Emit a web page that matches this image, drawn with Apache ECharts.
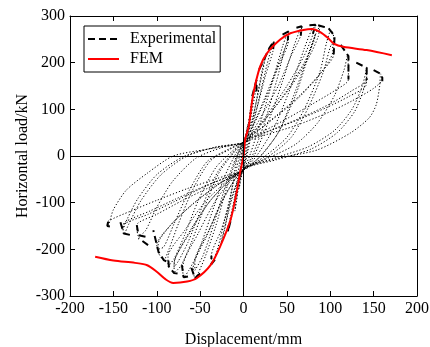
<!DOCTYPE html>
<html>
<head>
<meta charset="utf-8">
<script src="https://cdn.jsdelivr.net/npm/echarts@6/dist/echarts.min.js"></script>
<style>html,body{margin:0;padding:0;background:#fff}#c{width:430px;height:347px}</style>
</head>
<body>
<div id="c"></div>
<script>
// ---- tick settings ----
var xTicks = { min: -200, max: 200, interval: 50 };
var yTicks = { min: -300, max: 300, interval: 100 };

// ---- FEM curve [displacement mm, load kN] ----
var femData = [
  [-171,-216],[-150,-224],[-125,-229],[-111,-234],[-100,-248],[-90,-264],[-81,-272],
  [-65,-269],[-54,-262],[-38,-234],[-27,-194],[-15,-137],[-8,-79],[-4,-36],[0,0],
  [2,36],[6,63],[11,130],[19,191],[27,220],[42,249],[54,263],[69,270],[79,272],
  [88,266],[98,252],[104,241],[115,234],[142,227],[171,216]
];

// ---- Experimental hysteresis loops (one array per cycle) ----
var cycA = [[0,0],[2,30],[5,68],[4,60],[1,28],[-1,8],[-3,-35],[-5,-70],[-4,-60],[-1,-28],[0,-10]];
var cycB = [[0,-10],[4,40],[8,100],[10,122],[9,110],[4,52],[0,25],[-4,-30],[-8,-95],[-10,-118],[-9,-105],[-4,-50],[0,-22]];
var cycC = [[0,-22],[5,35],[11,125],[15,163],[14,140],[6,62],[0,28],[-5,-20],[-12,-115],[-18,-162],[-17,-148],[-7,-65],[0,-26]];
var cycD = [[0,-26],[6,30],[15,120],[22,188],[25,210],[23,190],[10,78],[0,30],[-7,0],[-15,-90],[-22,-160],[-26,-188],[-24,-170],[-10,-70],[0,-28]];
var cycE = [[0,-28],[5,10],[14,90],[25,180],[32,230],[35,246],[34,225],[25,170],[15,100],[5,50],[0,30],
            [-4,5],[-12,-60],[-22,-140],[-30,-200],[-35,-225],[-37,-232],[-37,-214],[-26,-160],[-15,-95],[-5,-45],[0,-30]];
var cycF = [[0,-30],[8,5],[20,75],[35,170],[45,235],[50,260],[52,267],[51,248],[42,205],[28,140],[14,78],[4,40],[0,30],
            [-6,5],[-18,-60],[-32,-150],[-44,-215],[-52,-250],[-56,-262],[-58,-240],[-42,-170],[-26,-100],[-10,-50],[0,-30]];
var cycF2 = [[0,-30],[10,0],[24,70],[38,160],[47,225],[52,255],[51,238],[40,190],[26,125],[12,68],[3,38],[0,30],
             [-8,0],[-20,-60],[-35,-150],[-47,-215],[-56,-245],[-56,-225],[-40,-160],[-24,-95],[-8,-45],[0,-30]];
var cycG = [[0,-30],[12,0],[28,70],[45,160],[58,235],[64,265],[67,278],[66,258],[55,215],[40,150],[22,90],[8,45],[0,30],
            [-8,8],[-22,-45],[-38,-130],[-52,-205],[-63,-245],[-69,-260],[-70,-238],[-52,-165],[-32,-95],[-12,-48],[0,-30]];
var cycH = [[0,-30],[15,0],[35,60],[55,150],[70,230],[78,268],[83,281],[80,260],[70,215],[50,150],[28,90],[10,48],[0,30],
            [-10,10],[-28,-35],[-45,-110],[-60,-185],[-72,-235],[-80,-251],[-80,-232],[-62,-165],[-40,-100],[-15,-50],[0,-30]];
var cycH2 = [[0,-30],[18,-3],[40,50],[60,140],[74,215],[83,262],[81,245],[70,200],[50,140],[28,85],[10,45],[0,30],
             [-12,8],[-30,-35],[-48,-110],[-64,-185],[-75,-225],[-80,-238],[-79,-220],[-60,-155],[-38,-95],[-14,-48],[0,-30]];
var cycI = [[0,-30],[20,0],[40,50],[60,130],[75,215],[84,265],[88,278],[86,255],[75,210],[55,150],[30,90],[10,48],[0,30],
            [-12,12],[-32,-25],[-52,-95],[-68,-170],[-80,-220],[-87,-237],[-87,-216],[-68,-160],[-45,-100],[-18,-52],[0,-30]];
var cycJ = [[0,-30],[25,0],[50,40],[70,100],[88,180],[96,245],[101,270],[104,255],[104,218],[90,180],[65,130],[40,90],[15,52],[0,30],
            [-15,15],[-38,-10],[-58,-70],[-75,-145],[-86,-200],[-92,-223],[-98,-208],[-100,-190],[-85,-150],[-60,-105],[-30,-62],[-8,-38],[0,-30]];
var cycJ2 = [[0,-30],[28,-2],[55,40],[75,105],[92,180],[102,240],[103,225],[88,175],[62,122],[38,85],[14,50],[0,30],
             [-18,14],[-42,-12],[-62,-72],[-80,-145],[-92,-195],[-99,-200],[-97,-180],[-80,-140],[-55,-98],[-28,-60],[-8,-38],[0,-30]];
var cycK = [[0,-28],[30,-3],[60,25],[85,70],[105,130],[116,185],[120,215],[121,164],[105,140],[80,112],[50,80],[25,55],[5,36],[0,28],
            [-25,18],[-55,-5],[-82,-55],[-100,-110],[-113,-160],[-121,-172],[-123,-148],[-100,-125],[-70,-95],[-40,-68],[-10,-42],[0,-30]];
var cycL = [[0,-28],[35,-5],[75,20],[105,55],[125,100],[137,150],[142,189],[142,163],[125,140],[100,112],[70,85],[35,58],[8,38],[0,28],
            [-30,20],[-65,0],[-95,-40],[-118,-95],[-132,-145],[-138,-168],[-139,-150],[-110,-125],[-80,-98],[-45,-66],[-15,-42],[0,-30]];
var cycL2 = [[0,-28],[38,-8],[78,15],[108,50],[128,95],[138,140],[142,170],[141,150],[122,128],[96,104],[66,80],[32,55],[8,37],[0,28],
             [-34,18],[-70,-2],[-100,-40],[-122,-92],[-134,-135],[-139,-158],[-137,-142],[-108,-118],[-78,-92],[-44,-64],[-14,-42],[0,-30]];
var cycM = [[0,-28],[40,-5],[85,13],[123,49],[145,82],[153,110],[157,150],[158,176],[160,165],[150,145],[125,118],[100,95],[60,65],[25,45],[5,33],[0,28],
            [-40,15],[-81,0],[-111,-37],[-135,-73],[-150,-115],[-155,-145],[-157,-150],[-156,-140],[-130,-118],[-100,-95],[-65,-70],[-30,-48],[-8,-35],[0,-30]];
var cycles = [cycA, cycB, cycC, cycD, cycE, cycF, cycF2, cycG, cycH, cycH2, cycI, cycJ, cycJ2, cycK, cycL, cycL2, cycM];

// ---- Experimental peak segments (bold dashes) ----
var tipsPos = [
  [[10,128],[15,163],[15,138]],
  [[18,185],[25,212],[30,232],[35,246],[34,225]],
  [[45,260],[52,267],[51,248]],
  [[61,275],[67,278],[66,258]],
  [[76,280],[83,281],[80,262]],
  [[86,280],[92,277],[98,274],[105,257],[104,218]],
  [[112,238],[121,214],[121,164]],
  [[130,200],[142,189],[142,163]],
  [[150,184],[158,176],[160,168],[160,160]]
];
var tipsNeg = [
  [[-15,-140],[-18,-162],[-17,-148]],
  [[-33,-222],[-37,-232],[-37,-214]],
  [[-50,-252],[-56,-262],[-61,-234]],
  [[-64,-258],[-69,-260],[-71,-234]],
  [[-76,-252],[-80,-251],[-86,-237],[-87,-216]],
  [[-89,-226],[-92,-223],[-98,-205],[-104,-159]],
  [[-110,-191],[-121,-176]],
  [[-113,-173],[-121,-170],[-123,-148]],
  [[-131,-169],[-138,-166],[-142,-141]],
  [[-154,-151],[-157,-150],[-156,-141]]
];

// build series data from the arrays
var loopData = [];
cycles.forEach(function (c) { c.forEach(function (p) { loopData.push(p); }); });
var tipData = [];
tipsPos.concat(tipsNeg).forEach(function (seg) {
  seg.forEach(function (p) { tipData.push(p); });
  tipData.push([null, null]);
});

var FONT = '"Liberation Serif","Times New Roman",serif';
var chart = echarts.init(document.getElementById('c'), null, { renderer: 'canvas' });

function axisCommon(show, margin) {
  return {
    axisLine: { show: true, onZero: false, lineStyle: { color: '#000', width: 1 } },
    axisTick: { show: true, inside: true, length: 5, lineStyle: { color: '#000' } },
    axisLabel: { show: show, color: '#000', fontFamily: FONT, fontSize: 16, margin: margin },
    splitLine: { show: false }
  };
}

var option = {
  animation: false,
  backgroundColor: '#fff',
  grid: { left: 70, right: 13, top: 16, bottom: 51, containLabel: false, outerBoundsMode: 'none' },
  legend: {
    data: ['Experimental', 'FEM'],
    orient: 'vertical',
    left: 84, top: 26,
    padding: [5, 4, 5, 3],
    itemGap: 4,
    itemWidth: 31, itemHeight: 14,
    itemStyle: { opacity: 0 },
    backgroundColor: '#fff',
    borderColor: '#000', borderWidth: 1, borderRadius: 0,
    textStyle: { color: '#000', fontFamily: FONT, fontSize: 16, padding: [0, 0, 0, 6] }
  },
  xAxis: [
    Object.assign({ type: 'value', position: 'bottom', min: xTicks.min, max: xTicks.max, interval: xTicks.interval,
      name: 'Displacement/mm', nameLocation: 'middle', nameGap: 36, nameMoveOverlap: false,
      nameTextStyle: { color: '#000', fontFamily: FONT, fontSize: 16 } }, axisCommon(true, 5)),
    Object.assign({ type: 'value', position: 'top', min: xTicks.min, max: xTicks.max, interval: xTicks.interval }, axisCommon(false, 5))
  ],
  yAxis: [
    Object.assign({ type: 'value', position: 'left', min: yTicks.min, max: yTicks.max, interval: yTicks.interval,
      name: 'Horizontal load/kN', nameLocation: 'middle', nameGap: 39, nameMoveOverlap: false,
      nameTextStyle: { color: '#000', fontFamily: FONT, fontSize: 16 } }, axisCommon(true, 5)),
    Object.assign({ type: 'value', position: 'right', min: yTicks.min, max: yTicks.max, interval: yTicks.interval }, axisCommon(false, 5))
  ],
  series: [
    {
      name: 'loops', type: 'line', data: loopData, symbol: 'none', smooth: 0.25,
      lineStyle: { color: '#000', width: 1, type: [1.2, 2] }, silent: true, z: 2,
      markLine: {
        silent: true, symbol: 'none', label: { show: false },
        lineStyle: { color: '#000', width: 1, type: 'solid' },
        data: [{ xAxis: 0 }, { yAxis: 0 }]
      }
    },
    {
      name: 'Experimental', type: 'line', data: tipData, symbol: 'none', connectNulls: false,
      itemStyle: { color: '#000' },
      lineStyle: { color: '#000', width: 2, type: [7, 4] }, z: 3
    },
    {
      name: 'FEM', type: 'line', data: femData, symbol: 'none', smooth: 0.3,
      lineStyle: { color: '#ff0000', width: 2 }, itemStyle: { color: '#ff0000' }, z: 4
    }
  ]
};
chart.setOption(option);
</script>
</body>
</html>
